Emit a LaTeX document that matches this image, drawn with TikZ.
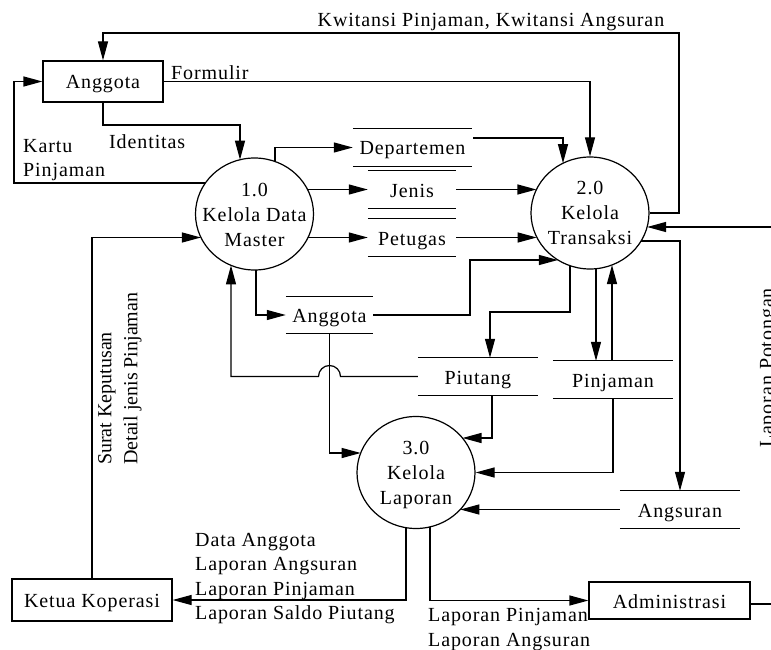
\documentclass[tikz,border=0pt]{standalone}
\usepackage{fontspec}
\setmainfont{Liberation Serif}[LetterSpace=4.5]
\newfontfamily\nsp{Liberation Serif}
\usetikzlibrary{arrows.meta,shapes.geometric,calc}
\begin{document}
\begin{tikzpicture}[x=1pt,y=-1pt,
  every node/.style={font=\fontsize{20}{24.5}\selectfont, inner sep=0pt},
  proc/.style={draw, ellipse, line width=1.2pt, minimum width=118, minimum height=112},
  ptext/.style={align=center, anchor=north, font=\fontsize{20}{25}\selectfont},
  ent/.style={draw, rectangle, line width=1.2pt, text height=15, text depth=0},
  store/.style={minimum height=37, text height=15, text depth=0},
  arr/.style={line width=1.2pt, -{Triangle[length=19pt,width=10pt]}},
  ln/.style={line width=1.2pt}
]
\useasboundingbox (0,0) rectangle (771,650);

% external entities
\node[ent, minimum width=120, minimum height=41] (ang) at (103,81.5) {Anggota};
\node[ent, minimum width=160, minimum height=42] (ket) at (92,600) {Ketua Koperasi};
\node[ent, minimum width=161, minimum height=37] (adm) at (669.5,600.5) {Administrasi};

% processes
\node[proc] (c1) at (254.5,214) {};
\node[proc] (c2) at (590,213) {};
\node[proc] (c3) at (416,472.5) {};
\node[ptext] (t1) at ($(c1.center)+(0,-31)$) {1.0\\Kelola Data\\Master};
\node[ptext] (t2) at ($(c2.center)+(0,-32)$) {2.0\\Kelola\\Transaksi};
\node[ptext] (t3) at ($(c3.center)+(0,-31.5)$) {3.0\\Kelola\\Laporan};

% data stores
\node[store, minimum width=119] (dep) at (412.5,147.5) {Departemen};
\node[store, minimum width=88] (jen) at (412,189.5) {Jenis};
\node[store, minimum width=88] (pet) at (412,237.5) {Petugas};
\node[store, minimum width=87, minimum height=36] (agt) at (329.5,315) {Anggota};
\node[store, minimum width=120] (piu) at (478,376.5) {Piutang};
\node[store, minimum width=120] (pin) at (613,379.5) {Pinjaman};
\node[store, minimum width=120] (ags) at (680,509.5) {Angsuran};
\foreach \s in {dep,jen,pet,agt,piu,pin,ags}
  \draw[ln] (\s.north west) -- (\s.north east) (\s.south west) -- (\s.south east);

% helper points on process borders
\coordinate (e1k)   at ($(c1)+(-49.1,-31)$);
\coordinate (e1id)  at ($(c1)+(-14.5,-54.3)$);
\coordinate (e1dep) at ($(c1)+(20.5,-52.5)$);
\coordinate (e1jen) at ($(c1)+(53.3,-24.5)$);
\coordinate (e1pet) at ($(c1)+(53.6,23.5)$);
\coordinate (e1agt) at ($(c1)+(1.5,56)$);
\coordinate (e1piu) at ($(c1)+(-23.5,51.4)$);
\coordinate (e1ket) at ($(c1)+(-53.6,23.5)$);
\coordinate (e2dep) at ($(c2)+(-27,-49.8)$);
\coordinate (e2jen) at ($(c2)+(-53.6,-23.5)$);
\coordinate (e2pet) at ($(c2)+(-53.3,24.5)$);
\coordinate (e2agt) at ($(c2)+(-32.1,47)$);
\coordinate (e2piu) at ($(c2)+(-20,52.7)$);
\coordinate (e2pa)  at ($(c2)+(6,55.7)$);
\coordinate (e2pb)  at ($(c2)+(22,52)$);
\coordinate (e2ags) at ($(c2)+(51.1,28)$);
\coordinate (e2rin) at ($(c2)+(57.1,14)$);
\coordinate (e3agt) at ($(c3)+(-55.3,-19.5)$);
\coordinate (e3piu) at ($(c3)+(46.5,-34.5)$);
\coordinate (e3ags) at ($(c3)+(44.3,37)$);
\coordinate (e3ket) at ($(c3)+(-10,55.2)$);
\coordinate (e3adm) at ($(c3)+(14,54.4)$);
% bend points / free ends
\coordinate (kwtop) at (679,33);
\coordinate (kc)    at (14,183);
\coordinate (idA)   at (103,125);
\coordinate (depout) at (473,138);
\coordinate (agtA)  at (470,260);
\coordinate (piuA)  at (490,312);
\coordinate (rin)   at (776,227);
\coordinate (rout)  at (776,604);

% flows
\draw[arr] (c2.east) -| (kwtop) -| (ang.north);
\draw[arr] (ang.east) -| (c2.north);
\draw[arr] (e1k) -- (kc) |- (ang.west);
\draw[arr] (ang.south) -- (idA) -| (e1id);
\draw[arr] (e1dep) |- (dep.west);
\draw[arr] (depout) -| (e2dep);
\draw[arr] (e1jen) -- (jen.west);
\draw[arr] (jen.east) -- (e2jen);
\draw[arr] (e1pet) -- (pet.west);
\draw[arr] (pet.east) -- (e2pet);
\draw[arr] (e1agt) |- (agt.west);
\draw[arr] (agt.east) -| (agtA) -- (e2agt);
\draw[arr] (agt.south) |- (e3agt);
\draw[arr] (piu.west) -- ($(agt.south |- piu.west)+(11,0)$)
   arc[start angle=0,end angle=180,radius=11pt] -- (e1piu |- piu.west) -- (e1piu);
\draw[arr] (e2piu) |- (piuA) -- (piuA |- piu.north);
\draw[arr] (e2pa) -- (e2pa |- pin.north);
\draw[arr] (e2pb |- pin.north) -- (e2pb);
\draw[arr] ($(piu.south)+(14,0)$) |- (e3piu);
\draw[arr] (pin.south) |- (c3.east);
\draw[arr] (e2ags) -| (ags.north);
\draw[arr] (ags.west) -- (e3ags);
\draw[arr] (rin) -- (e2rin);
\draw[ln] ($(adm.east)+(0,3.5)$) -- (rout);
\draw[arr] (ket.north) |- (e1ket);
\draw[arr] (e3ket) |- (ket.east);
\draw[arr] (e3adm) |- (adm.west);

% labels
\node[anchor=base] (lkw) at (491,27) {Kwitansi Pinjaman, Kwitansi Angsuran};
\node[anchor=base west] (lfo) at (171,80) {Formulir};
\node[anchor=north west, align=left] (lka) at (23,139) {Kartu\\Pinjaman};
\node[anchor=base west] (lid) at (109,149) {Identitas};
\node[anchor=north west, align=left] (ldl) at (195,533) {Data Anggota\\Laporan Angsuran\\Laporan Pinjaman\\Laporan Saldo Piutang};
\node[anchor=north west, align=left] (lla) at (428,608.5) {Laporan Pinjaman\\Laporan Angsuran};
\node[rotate=90, anchor=north west, align=left, font=\nsp\fontsize{20}{26}\selectfont] (lsk) at (98,465) {Surat Keputusan\\Detail jenis Pinjaman};
\node[rotate=90, anchor=base] (llp) at (773,368) {Laporan Potongan};
\end{tikzpicture}
\end{document}
